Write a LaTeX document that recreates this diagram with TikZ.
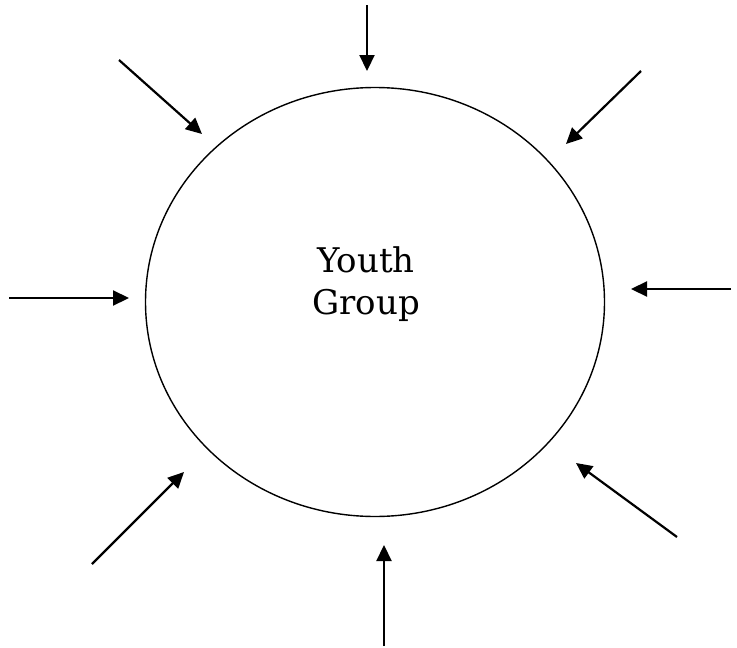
\documentclass[tikz,border=0pt]{standalone}
\usepackage{fontspec}
\setmainfont{DejaVu Serif}
\usepackage{tikz}
\usetikzlibrary{arrows.meta,shapes.geometric}
\tikzstyle{every node}=[font=\fontsize{34}{42}\selectfont]
\tikzstyle{group}=[ellipse,
                   draw,
                   line width=1.4pt,
                   inner sep=0pt,
                   minimum width=459pt,
                   minimum height=429pt]
\tikzstyle{feed}=[line width=2.2pt,
                  -{Triangle[length=16pt,width=15pt]}]

\begin{document}
\begin{tikzpicture}[x=1pt,y=-1pt]
\useasboundingbox (0,0) rectangle (737,648);
\node (circle) [group] at (375,302) {};
\node (name) [align=center] at (366,284) {Youth\\Group};
% outer ends
\coordinate (n_out)  at (367,5);
\coordinate (nw_out) at (119,60);
\coordinate (ne_out) at (641,71);
\coordinate (w_out)  at (9,298);
\coordinate (e_out)  at (731,289);
\coordinate (sw_out) at (92,564);
\coordinate (s_out)  at (384,646);
\coordinate (se_out) at (677,537);
% tips
\coordinate (n_in)  at (367,71);
\coordinate (nw_in) at (202,134);
\coordinate (ne_in) at (566,144);
\coordinate (w_in)  at (129,298);
\coordinate (e_in)  at (631,289);
\coordinate (sw_in) at (184,472);
\coordinate (s_in)  at (384,545);
\coordinate (se_in) at (576,463);
\draw[feed] (n_out) -- (n_in);
\draw[feed] (nw_out) -- (nw_in);
\draw[feed] (ne_out) -- (ne_in);
\draw[feed] (w_out) -- (w_in);
\draw[feed] (e_out) -- (e_in);
\draw[feed] (sw_out) -- (sw_in);
\draw[feed] (s_out) -- (s_in);
\draw[feed] (se_out) -- (se_in);
\end{tikzpicture}
\end{document}
